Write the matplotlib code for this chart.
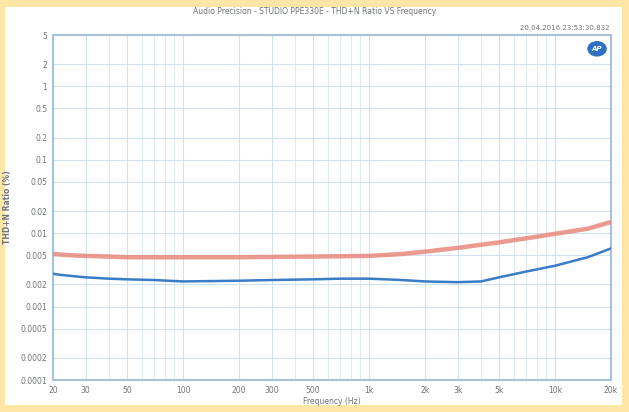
import numpy as np
import matplotlib
matplotlib.use("Agg")
import matplotlib.pyplot as plt
from matplotlib.patches import Rectangle, Ellipse
from matplotlib.ticker import FixedLocator, FixedFormatter, NullFormatter

# THD+N ratio (%) vs frequency, two channels
freq_red = [20, 25, 30, 40, 50, 100, 200, 500, 1000, 1500, 2000, 3000,
            5000, 7000, 10000, 15000, 20000]
thd_red = [0.0052, 0.0050, 0.0049, 0.0048, 0.0047, 0.0047, 0.0047, 0.0048,
           0.0049, 0.0052, 0.0056, 0.0063, 0.0075, 0.0085, 0.0098, 0.0115,
           0.0142]

freq_blue = [20, 22, 30, 40, 50, 70, 100, 200, 300, 500, 700, 1000, 1500,
             2000, 3000, 4000, 5000, 7000, 10000, 15000, 20000]
thd_blue = [0.0028, 0.0027, 0.0025, 0.0024, 0.00235, 0.0023, 0.0022,
            0.00225, 0.0023, 0.00235, 0.0024, 0.0024, 0.0023, 0.0022,
            0.00215, 0.0022, 0.0025, 0.0030, 0.0036, 0.0047, 0.0062]

x_ticks = [20, 30, 50, 100, 200, 300, 500, 1000, 2000, 3000, 5000, 10000, 20000]
x_labels = ["20", "30", "50", "100", "200", "300", "500", "1k", "2k", "3k",
            "5k", "10k", "20k"]
y_ticks = [5, 2, 1, 0.5, 0.2, 0.1, 0.05, 0.02, 0.01, 0.005, 0.002, 0.001,
           0.0005, 0.0002, 0.0001]
y_labels = ["5", "2", "1", "0.5", "0.2", "0.1", "0.05", "0.02", "0.01",
            "0.005", "0.002", "0.001", "0.0005", "0.0002", "0.0001"]

title = "Audio Precision - STUDIO PPE330E - THD+N Ratio VS Frequency"
stamp = "20.04.2016 23:53:30.832"

txt = "#6f7378"
fig = plt.figure(figsize=(6.29, 4.12), dpi=100, facecolor="#fde6a6")
fig.patches.append(Rectangle((5 / 629, 7 / 412), 617 / 629, 398 / 412,
                             transform=fig.transFigure, facecolor="white",
                             edgecolor="none", zorder=-5))

ax = fig.add_axes([53 / 629, 1 - 380 / 412, 558 / 629, 345 / 412])
ax.set_facecolor("white")
ax.set_xscale("log")
ax.set_yscale("log")
ax.set_xlim(20, 20000)
ax.set_ylim(0.0001, 5)

ax.plot(freq_red, thd_red, color="#e8897c", lw=3.2, alpha=0.85,
        solid_capstyle="butt", zorder=3)
ax.plot(freq_blue, thd_blue, color="#3a7cc6", lw=1.8, zorder=4)

ax.xaxis.set_major_locator(FixedLocator(x_ticks))
ax.xaxis.set_major_formatter(FixedFormatter(x_labels))
ax.xaxis.set_minor_formatter(NullFormatter())
ax.yaxis.set_major_locator(FixedLocator(y_ticks))
ax.yaxis.set_major_formatter(FixedFormatter(y_labels))
ax.yaxis.set_minor_locator(FixedLocator([]))

ax.grid(which="major", color="#cfe2f0", lw=0.8)
ax.grid(which="minor", axis="x", color="#dde9f3", lw=0.7)
ax.tick_params(which="both", length=0, labelsize=5.5, labelcolor=txt, pad=4)
for s in ax.spines.values():
    s.set_color("#a8c3d8")
    s.set_linewidth(1.5)

ax.set_xlabel("Frequency (Hz)", fontsize=5.5, color=txt, labelpad=2)
ax.set_ylabel("THD+N Ratio (%)", fontsize=5.5, color=txt, labelpad=6,
              fontweight="bold")

fig.text(0.5, 1 - 11 / 412, title, ha="center", va="center",
         fontsize=5.5, color=txt)
fig.text(609 / 629, 1 - 28 / 412, stamp, ha="right", va="center",
         fontsize=5, color=txt)

# AP badge in the top right corner
ax.add_patch(Ellipse((0.975, 0.96), 0.035, 0.045, transform=ax.transAxes,
                     facecolor="#2f72c4", edgecolor="none", zorder=5))
ax.text(0.975, 0.96, "AP", transform=ax.transAxes, ha="center", va="center",
        fontsize=5, color="white", fontweight="bold", style="italic", zorder=6)

fig.savefig("out.png", dpi=100, facecolor=fig.get_facecolor())
